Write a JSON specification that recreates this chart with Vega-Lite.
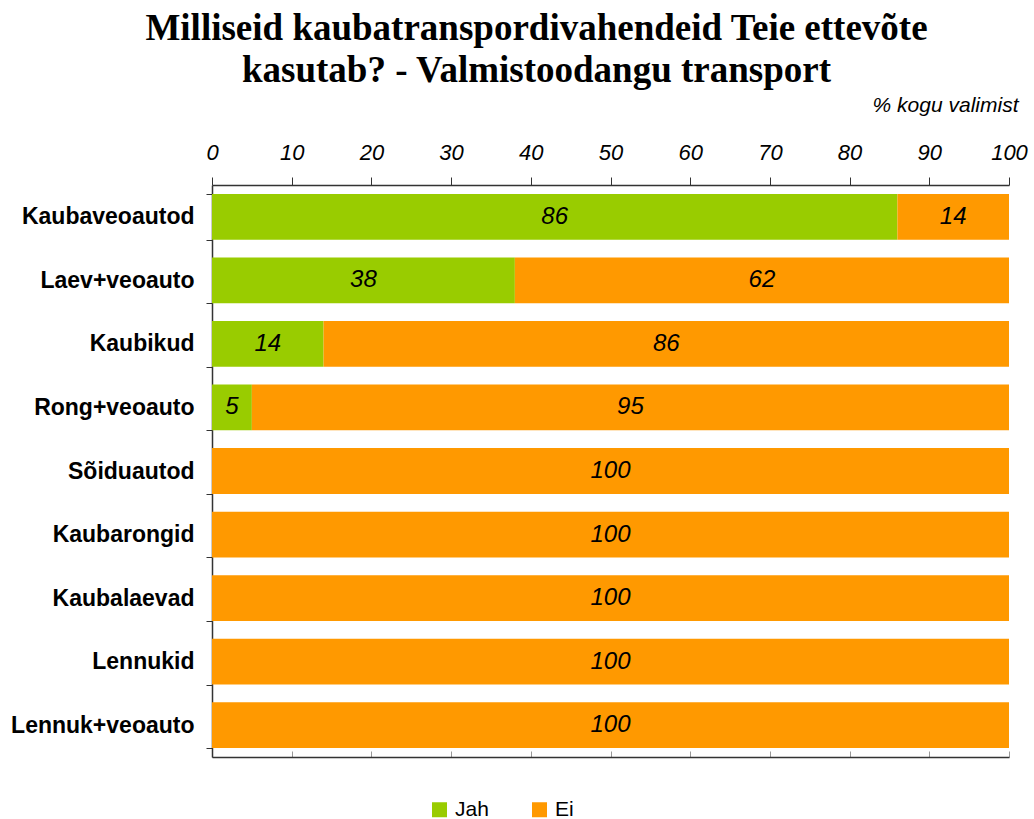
{
  "$schema": "https://vega.github.io/schema/vega-lite/v6.json",
  "width": 797,
  "height": 572,
  "autosize": "none",
  "padding": {"left": 212, "top": 185, "right": 25, "bottom": 62},
  "background": "white",
  "title": {
    "text": ["Milliseid kaubatranspordivahendeid Teie ettevõte", "kasutab? - Valmistoodangu transport"],
    "font": "Liberation Serif",
    "fontSize": 37,
    "fontWeight": "bold",
    "color": "black",
    "lineHeight": 42,
    "anchor": "middle",
    "frame": "group",
    "dx": -74,
    "offset": 4
  },
  "data": {
    "values": [
      {"kat": "Kaubaveoautod", "series": "Jah", "v": 86},
      {"kat": "Kaubaveoautod", "series": "Ei", "v": 14},
      {"kat": "Laev+veoauto", "series": "Jah", "v": 38},
      {"kat": "Laev+veoauto", "series": "Ei", "v": 62},
      {"kat": "Kaubikud", "series": "Jah", "v": 14},
      {"kat": "Kaubikud", "series": "Ei", "v": 86},
      {"kat": "Rong+veoauto", "series": "Jah", "v": 5},
      {"kat": "Rong+veoauto", "series": "Ei", "v": 95},
      {"kat": "Sõiduautod", "series": "Ei", "v": 100},
      {"kat": "Kaubarongid", "series": "Ei", "v": 100},
      {"kat": "Kaubalaevad", "series": "Ei", "v": 100},
      {"kat": "Lennukid", "series": "Ei", "v": 100},
      {"kat": "Lennuk+veoauto", "series": "Ei", "v": 100}
    ]
  },
  "transform": [
    {"stack": "v", "groupby": ["kat"], "sort": [{"field": "series", "order": "descending"}], "as": ["x0", "x1"]}
  ],
  "encoding": {
    "y": {
      "field": "kat",
      "type": "nominal",
      "sort": null,
      "scale": {"paddingInner": 0.28, "paddingOuter": 0.14},
      "axis": {
        "title": null,
        "labelFont": "Liberation Sans",
        "labelFontSize": 23,
        "labelFontWeight": "bold",
        "labelColor": "black",
        "labelPadding": 12,
        "labelLimit": 0,
        "tickBand": "extent",
        "tickSize": 6,
        "tickColor": "#333",
        "domainColor": "#333",
        "domainWidth": 1.5
      }
    }
  },
  "layer": [
    {
      "mark": {"type": "bar"},
      "encoding": {
        "x": {
          "field": "x0",
          "type": "quantitative",
          "scale": {"domain": [0, 100], "nice": false},
          "axis": {
            "orient": "top",
            "values": [0, 10, 20, 30, 40, 50, 60, 70, 80, 90, 100],
            "grid": false,
            "labelFlush": false,
            "labelFont": "Liberation Sans",
            "labelFontSize": 22,
            "labelFontStyle": "italic",
            "labelColor": "black",
            "labelPadding": 13,
            "tickSize": 8,
            "tickColor": "#333",
            "domainColor": "#333",
            "domainWidth": 1.5,
            "title": "% kogu valimist",
            "titleFont": "Liberation Sans",
            "titleFontSize": 21,
            "titleFontStyle": "italic",
            "titleFontWeight": "normal",
            "titleColor": "black",
            "titleAnchor": "end",
            "titleAlign": "right",
            "titleX": 806,
            "titleY": -70
          }
        },
        "x2": {"field": "x1"},
        "color": {
          "field": "series",
          "type": "nominal",
          "scale": {"domain": ["Jah", "Ei"], "range": ["#99CC00", "#FF9900"]},
          "legend": {
            "title": null,
            "orient": "none",
            "direction": "horizontal",
            "legendX": 217,
            "legendY": 614,
            "symbolType": "square",
            "symbolSize": 225,
            "symbolStrokeWidth": 0,
            "symbolOpacity": 1,
            "labelFont": "Liberation Sans",
            "labelFontSize": 21,
            "labelColor": "black",
            "labelOffset": 5,
            "columnPadding": 40
          }
        }
      }
    },
    {
      "transform": [
        {"fold": ["x0", "x1"], "as": ["k", "pos"]},
        {"aggregate": [{"op": "mean", "field": "pos", "as": "mid"}], "groupby": ["kat", "series", "v"]}
      ],
      "mark": {"type": "text", "font": "Liberation Sans", "fontSize": 24, "fontStyle": "italic", "color": "black"},
      "encoding": {
        "x": {
          "field": "mid",
          "type": "quantitative",
          "scale": {"domain": [0, 100], "nice": false},
          "axis": {
            "orient": "bottom",
            "values": [0, 10, 20, 30, 40, 50, 60, 70, 80, 90, 100],
            "labels": false,
            "title": null,
            "grid": false,
            "tickSize": -6,
            "tickColor": "#999",
            "domainColor": "#333",
            "domainWidth": 1.5
          }
        },
        "text": {"field": "v", "type": "quantitative"}
      }
    }
  ],
  "resolve": {"axis": {"x": "independent"}},
  "config": {"view": {"stroke": null}}
}
